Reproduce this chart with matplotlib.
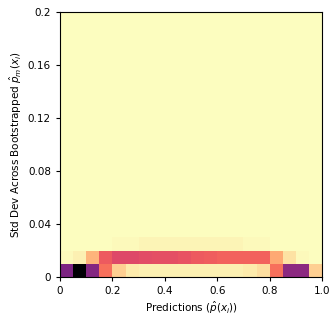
import numpy as np
import matplotlib
matplotlib.use("Agg")
import matplotlib.pyplot as plt

x_edges = np.linspace(0, 1, 21)
y_edges = np.linspace(0, 0.2, 21)

row0 = [64, 100, 62, 30, 10, 4, 3, 3, 3, 3, 3, 3, 3, 3, 4, 7, 30, 60, 60, 10]
row1 = [1, 3, 16, 35, 40, 40, 39, 38, 38, 37, 35, 34, 33, 33, 33, 33, 18, 6, 1, 0]
row2 = [0, 0, 0, 0, 1, 1, 2, 2, 2, 2, 2, 2, 2, 2, 1, 1, 0, 0, 0, 0]

counts = np.zeros((20, 20))
counts[0] = row0
counts[1] = row1
counts[2] = row2

fig = plt.figure(figsize=(3.34, 3.2), dpi=100)
ax = fig.add_axes([60/334, 43/320, 262/334, 265/320])
ax.pcolormesh(x_edges, y_edges, counts, cmap="magma_r", vmin=0, vmax=100)
ax.set_xlim(0, 1)
ax.set_ylim(0, 0.2)
ax.set_xticks([0, 0.2, 0.4, 0.6, 0.8, 1.0])
ax.set_xticklabels(["0", "0.2", "0.4", "0.6", "0.8", "1.0"])
ax.set_yticks([0, 0.04, 0.08, 0.12, 0.16, 0.2])
ax.set_yticklabels(["0", "0.04", "0.08", "0.12", "0.16", "0.2"])
ax.tick_params(labelsize=7.5, length=3, width=0.8)
ax.set_xlabel(r"Predictions ($\hat{p}(x_i)$)", fontsize=7.5, labelpad=3)
ax.set_ylabel(r"Std Dev Across Bootstrapped $\hat{p}_m(x_i)$", fontsize=7.5, labelpad=3)
fig.savefig("out.png", dpi=100)
